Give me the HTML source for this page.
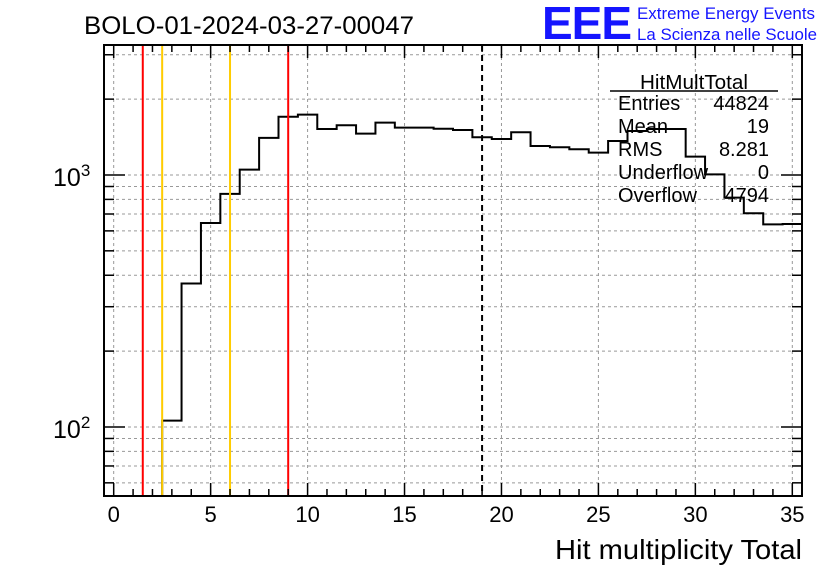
<!DOCTYPE html>
<html><head><meta charset="utf-8"><style>
body{margin:0;background:#fff;}
svg{display:block;font-family:"Liberation Sans",sans-serif;}
</style></head><body>
<svg id="c" width="836" height="572" viewBox="0 0 836 572">
<rect width="836" height="572" fill="#fff"/>
<text x="84" y="34" font-size="25" textLength="330" lengthAdjust="spacingAndGlyphs">BOLO-01-2024-03-27-00047</text>
<g>
<text x="542" y="39" font-size="46" font-weight="bold" fill="#1515ff" letter-spacing="-1">EEE</text>
<text x="637" y="19" font-size="17" fill="#1515ff" textLength="178" lengthAdjust="spacingAndGlyphs">Extreme Energy Events</text>
<text x="637" y="40" font-size="17" fill="#1515ff" textLength="180" lengthAdjust="spacingAndGlyphs">La Scienza nelle Scuole</text>
</g>
<g id="grid"></g>
<g id="marks"></g>
<g id="axes"></g>
<g font-size="20">
<text x="694" y="89" text-anchor="middle" textLength="108" lengthAdjust="spacingAndGlyphs">HitMultTotal</text>
<line x1="610" y1="91" x2="778" y2="91" stroke="#000" stroke-width="1.5"/>
<text x="618" y="110">Entries</text><text x="769" y="110" text-anchor="end">44824</text>
<text x="618" y="133">Mean</text><text x="769" y="133" text-anchor="end">19</text>
<text x="618" y="156">RMS</text><text x="769" y="156" text-anchor="end">8.281</text>
<text x="618" y="179">Underflow</text><text x="769" y="179" text-anchor="end">0</text>
<text x="618" y="202">Overflow</text><text x="769" y="202" text-anchor="end">4794</text>
</g>
<text x="802" y="559" font-size="28" text-anchor="end" textLength="247" lengthAdjust="spacingAndGlyphs">Hit multiplicity Total</text>
</svg>
<script>
const binCenters=[0,1,2,3,4,5,6,7,8,9,10,11,12,13,14,15,16,17,18,19,20,21,22,23,24,25,26,27,28,29,30,31,32,33,34,35];
const counts=[0,0,0,106,371,645,841,1050,1403,1703,1735,1523,1575,1459,1613,1541,1541,1526,1509,1411,1389,1477,1303,1288,1265,1226,1364,1495,1522,1522,1182,1006,813,705,637,639];
const xTicks=[0,5,10,15,20,25,30,35];
const cutLines=[{v:1.5,c:"#ff0000"},{v:2.5,c:"#ffcc00"},{v:6,c:"#ffcc00"},{v:9,c:"#ff0000"}];
const meanLine=[19];
const ns="http://www.w3.org/2000/svg";
const L=104,R=802,T=45,B=496,XMIN=-0.5,XMAX=35.5,YMIN=Math.log10(53.2),YMAX=Math.log10(3280);
const xs=v=>L+(v-XMIN)/(XMAX-XMIN)*(R-L);
const ys=v=>B-(Math.log10(v)-YMIN)/(YMAX-YMIN)*(B-T);
function mk(tag,attrs,parent){const e=document.createElementNS(ns,tag);for(const k in attrs)e.setAttribute(k,attrs[k]);parent.appendChild(e);return e;}
const grid=document.getElementById('grid'),marks=document.getElementById('marks'),axes=document.getElementById('axes');
xTicks.forEach(t=>{const l=mk('line',{x1:xs(t),x2:xs(t),y1:T,y2:B,stroke:'#999','stroke-width':1,'stroke-dasharray':'3,3'},grid);

});
const yMinor=[];for(let d=10;d<=1000;d*=10)for(let m=1;m<10;m++){const v=d*m;if(v>=54&&v<=3280)yMinor.push(v);}
yMinor.forEach(v=>{const l=mk('line',{x1:L,x2:R,y1:ys(v),y2:ys(v),stroke:'#999','stroke-width':1,'stroke-dasharray':'3,3'},grid);

});
let d='',started=false;
binCenters.forEach((c,i)=>{const v=counts[i];if(v<=0)return;const x0=xs(c-0.5),x1=xs(c+0.5),y=Math.max(T,ys(v));
if(!started){d+=`M${x0},${B} L${x0},${y} `;started=true;}else d+=`L${x0},${y} `;d+=`L${x1},${y} `;});
const h=mk('path',{d:d,fill:'none',stroke:'#000','stroke-width':2},marks);


cutLines.forEach(c=>{const l=mk('line',{x1:xs(c.v),x2:xs(c.v),y1:T,y2:B,stroke:c.c,'stroke-width':2},marks);

});
meanLine.forEach(m=>{const l=mk('line',{x1:xs(m),x2:xs(m),y1:T,y2:B,stroke:'#000','stroke-width':2,'stroke-dasharray':'6,4'},marks);

});
const f=mk('rect',{x:L,y:T,width:R-L,height:B-T,fill:'none',stroke:'#000','stroke-width':2},axes);


for(let v=0;v<=35;v++){const maj=v%5===0,len=maj?13:7,x=xs(v);
mk('line',{x1:x,x2:x,y1:B,y2:B-len,stroke:'#000','stroke-width':1.5},axes);
mk('line',{x1:x,x2:x,y1:T,y2:T+len,stroke:'#000','stroke-width':1.5},axes);}
xTicks.forEach(t=>{const tx=mk('text',{x:xs(t),y:522,'font-size':22,'text-anchor':'middle'},axes);tx.textContent=t;

});
yMinor.forEach(v=>{const maj=(v===100||v===1000),len=maj?21:10,y=ys(v);
mk('line',{x1:L,x2:L+len,y1:y,y2:y,stroke:'#000','stroke-width':1.5},axes);
mk('line',{x1:R,x2:R-len,y1:y,y2:y,stroke:'#000','stroke-width':1.5},axes);});
[[100,'2'],[1000,'3']].forEach(([v,e])=>{const tx=mk('text',{x:53,y:ys(v)+11,'font-size':25},axes);
tx.innerHTML='10<tspan dy="-10" font-size="17">'+e+'</tspan>';

});
</script>
</body></html>
